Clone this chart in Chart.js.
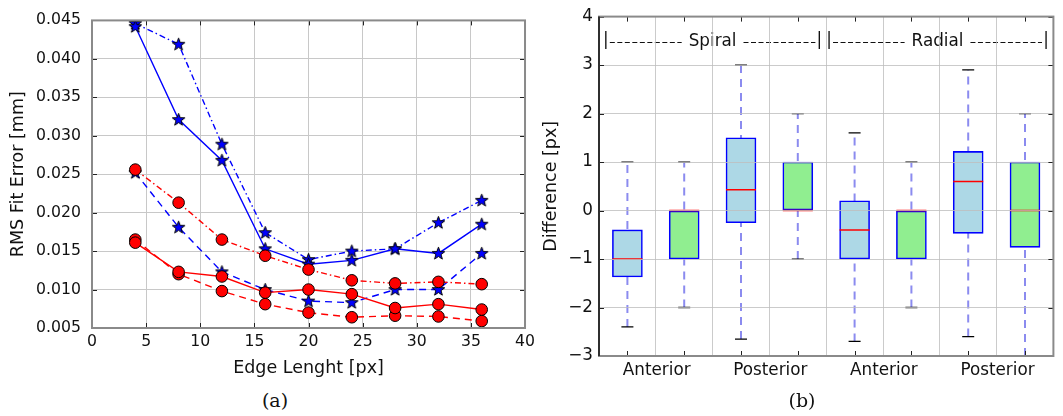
<!DOCTYPE html>
<html>
<head>
<meta charset="utf-8">
<script src="https://cdn.jsdelivr.net/npm/chart.js@4.4.0/dist/chart.umd.min.js"></script>
<style>
  html, body { margin: 0; padding: 0; background: #fff; overflow: hidden; width: 1063px; height: 416px; }
  .wrap { position: absolute; top: 0; }
  .cap { position: absolute; font-family: "DejaVu Serif", serif; font-size: 19px; color: #111; transform: translate(-50%, -50%); }
</style>
</head>
<body>
<div class="wrap" style="left:0;width:540px;height:380px"><canvas id="chartA"></canvas></div>
<div class="wrap" style="left:538px;width:532px;height:392px"><canvas id="chartB"></canvas></div>
<div class="cap" style="left:275px;top:400px">(a)</div>
<div class="cap" style="left:802px;top:400px">(b)</div>
<script>
// ---- panel (a) data
const edgeLength = [4, 8, 12, 16, 20, 24, 28, 32, 36];
const blueSolid = [0.0442, 0.0321, 0.0268, 0.0153, 0.0133, 0.0138, 0.0153, 0.0147, 0.0185];
const blueDashDot = [0.0446, 0.0419, 0.0289, 0.0174, 0.0139, 0.0150, 0.0153, 0.0187, 0.0216];
const blueDashed = [0.0252, 0.0181, 0.0123, 0.0100, 0.0085, 0.0083, 0.0100, 0.0100, 0.0147];
const redSolid = [0.0161, 0.0123, 0.0117, 0.0096, 0.0100, 0.0094, 0.0076, 0.0081, 0.0074];
const redDashed = [0.0165, 0.0120, 0.0098, 0.0081, 0.0070, 0.0064, 0.0066, 0.0065, 0.0059];
const redDashDot = [0.0256, 0.0213, 0.0165, 0.0144, 0.0126, 0.0112, 0.0108, 0.0110, 0.0107];

// ---- panel (b) data
const boxPos = [1, 2, 3, 4, 5, 6, 7, 8];
const boxQ1 = [-1.37, -1, -0.25, 0, -1, -1, -0.47, -0.76];
const boxQ3 = [-0.40, 0, 1.5, 1, 0.2, 0, 1.22, 1];
const boxMedian = [-1, 0, 0.43, 0, -0.4, 0, 0.6, 0];
const whiskerLow = [-2.4, -2, -2.65, -1, -2.7, -2, -2.6, -3];
const whiskerHigh = [1, 1, 3, 2, 1.6, 1, 2.9, 2];
const groupTickPos = [1, 3, 5, 7];
const groupLabels = ['Anterior', 'Posterior', 'Anterior', 'Posterior'];
const protocolNames = ['Spiral', 'Radial'];

const fontA = { family: 'DejaVu Sans', size: 15.7 };
const fontB = { family: 'DejaVu Sans', size: 16.8 };
const fontTitle = { family: 'DejaVu Sans', size: 17.5 };

function starImage() {
    const c = document.createElement('canvas');
    c.width = 15; c.height = 15;
    const g = c.getContext('2d');
    g.beginPath();
    for (let i = 0; i < 10; i++) {
        const r = i % 2 ? 2.7 : 6.6;
        const a = -Math.PI / 2 + i * Math.PI / 5;
        g.lineTo(7.5 + r * Math.cos(a), 7.8 + r * Math.sin(a));
    }
    g.closePath();
    g.fillStyle = '#0000ff';
    g.fill();
    g.strokeStyle = '#000';
    g.lineWidth = 1;
    g.stroke();
    return c;
}
const star = starImage();

function pts(xs, ys) {
    return xs.map((x, i) => ({ x: x, y: ys[i] }));
}

function series(values, color, dash, marker) {
    const s = {
        data: pts(edgeLength, values),
        borderColor: color,
        borderWidth: 1.4,
        borderDash: dash,
        fill: false,
        tension: 0
    };
    if (marker === 'star') {
        s.pointStyle = star;
    } else {
        s.pointStyle = 'circle';
        s.pointRadius = 5.8;
        s.pointBackgroundColor = '#ff0000';
        s.pointBorderColor = '#000';
        s.pointBorderWidth = 1;
    }
    return s;
}

// frame + inward tick marks
const framePlugin = {
    id: 'frame',
    afterDraw(chart, args, opts) {
        const { ctx, chartArea: a, scales } = chart;
        ctx.save();
        ctx.strokeStyle = opts.tickColor;
        ctx.lineWidth = 1;
        ctx.beginPath();
        scales.x.ticks.forEach(t => {
            const px = Math.round(scales.x.getPixelForValue(t.value)) + 0.5;
            ctx.moveTo(px, a.top); ctx.lineTo(px, a.top + 5);
            ctx.moveTo(px, a.bottom); ctx.lineTo(px, a.bottom - 5);
        });
        scales.y.ticks.forEach(t => {
            const py = Math.round(scales.y.getPixelForValue(t.value)) + 0.5;
            ctx.moveTo(a.left, py); ctx.lineTo(a.left + 5, py);
            ctx.moveTo(a.right, py); ctx.lineTo(a.right - 5, py);
        });
        ctx.stroke();
        ctx.strokeStyle = opts.color;
        ctx.lineWidth = 2;
        ctx.strokeRect(a.left, a.top, a.right - a.left, a.bottom - a.top);
        if (opts.leftColor) {
            ctx.strokeStyle = opts.leftColor;
            ctx.lineWidth = 1.5;
            ctx.beginPath();
            ctx.moveTo(a.left, a.top);
            ctx.lineTo(a.left, a.bottom);
            ctx.stroke();
        }
        ctx.restore();
    }
};

new Chart(document.getElementById('chartA'), {
    type: 'line',
    data: {
        datasets: [
            series(redSolid, '#ff0000', [], 'circle'),
            series(redDashed, '#ff0000', [7, 5], 'circle'),
            series(redDashDot, '#ff0000', [6, 3, 1.5, 3], 'circle'),
            series(blueSolid, '#0000ff', [], 'star'),
            series(blueDashed, '#0000ff', [7, 5], 'star'),
            series(blueDashDot, '#0000ff', [6, 3, 1.5, 3], 'star')
        ]
    },
    options: {
        responsive: true,
        maintainAspectRatio: false,
        animation: false,
        layout: { padding: { top: 16, right: 13, left: 0, bottom: 0 } },
        plugins: {
            legend: { display: false },
            tooltip: { enabled: false },
            frame: { color: '#8a8a8a', tickColor: '#222' }
        },
        scales: {
            x: {
                type: 'linear',
                min: 0, max: 40,
                ticks: { stepSize: 5, font: fontA, color: '#111', padding: 5, maxRotation: 0 },
                grid: { color: '#c8c8c8', drawTicks: false },
                border: { display: false },
                title: { display: true, text: 'Edge Lenght [px]', font: fontTitle, color: '#111', padding: { top: 0, bottom: 1.5 } },
                afterFit: s => { s.height = 52; }
            },
            y: {
                min: 0.005, max: 0.045,
                ticks: { stepSize: 0.005, font: fontA, color: '#111', padding: 11, callback: v => v.toFixed(3) },
                grid: { color: '#c8c8c8', drawTicks: false },
                border: { display: false },
                title: { display: true, text: 'RMS Fit Error [mm]', font: fontTitle, color: '#111', padding: { top: 8, bottom: 0 } },
                afterFit: s => { s.width = 92; }
            }
        }
    },
    plugins: [framePlugin]
});

// ---- panel (b)
const groupPlugin = {
    id: 'groups',
    afterDatasetsDraw(chart, args, opts) {
        const { ctx, scales: { x, y } } = chart;
        const py = y.getPixelForValue(opts.level);
        ctx.save();
        ctx.font = fontB.size + 'px ' + fontB.family;
        ctx.fillStyle = '#111';
        ctx.strokeStyle = '#111';
        ctx.lineWidth = 1;
        ctx.textBaseline = 'middle';
        opts.spans.forEach((span, i) => {
            const x0 = x.getPixelForValue(span[0]);
            const x1 = x.getPixelForValue(span[1]);
            const mid = (x0 + x1) / 2;
            const name = protocolNames[i];
            const w = ctx.measureText(name).width;
            ctx.textAlign = 'center';
            ctx.fillText('|', x0, py);
            ctx.fillText('|', x1, py);
            ctx.fillText(name, mid, py + 1);
            ctx.setLineDash([5, 2.5]);
            ctx.beginPath();
            ctx.moveTo(x0 + 4, Math.round(py) + 1.5); ctx.lineTo(mid - w / 2 - 7, Math.round(py) + 1.5);
            ctx.moveTo(mid + w / 2 + 7, Math.round(py) + 1.5); ctx.lineTo(x1 - 4, Math.round(py) + 1.5);
            ctx.stroke();
            ctx.setLineDash([]);
        });
        ctx.restore();
    }
};

const whiskerData = [];
boxPos.forEach((p, i) => {
    whiskerData.push({ x: p, y: whiskerLow[i] }, { x: p, y: whiskerHigh[i] }, { x: p, y: null });
});
const capData = [];
boxPos.forEach((p, i) => {
    capData.push({ x: p, y: whiskerLow[i] }, { x: p, y: whiskerHigh[i] });
});

new Chart(document.getElementById('chartB'), {
    type: 'bar',
    data: {
        datasets: [
            {
                type: 'scatter',
                data: pts(boxPos, boxMedian),
                pointStyle: 'line',
                pointRadius: 15,
                borderColor: '#ff0000',
                borderWidth: 1.6,
                order: 0
            },
            {
                type: 'scatter',
                data: capData,
                pointStyle: 'line',
                pointRadius: 6,
                borderColor: '#000',
                borderWidth: 1.3,
                order: 1
            },
            {
                type: 'bar',
                data: boxPos.map((p, i) => ({ x: p, y: [boxQ1[i], boxQ3[i]] })),
                backgroundColor: boxPos.map((p, i) => i % 2 ? '#90ee90' : '#add8e6'),
                borderColor: '#0000ff',
                borderWidth: 1.6,
                borderSkipped: false,
                barThickness: 30,
                grouped: false,
                order: 2
            },
            {
                type: 'line',
                data: whiskerData,
                borderColor: 'rgba(110,110,235,0.8)',
                borderWidth: 2,
                borderDash: [8, 6],
                pointRadius: 0,
                spanGaps: false,
                order: 3
            }
        ]
    },
    options: {
        responsive: true,
        maintainAspectRatio: false,
        animation: false,
        layout: { padding: { top: 16, right: 3, left: 0, bottom: 0 } },
        plugins: {
            legend: { display: false },
            tooltip: { enabled: false },
            frame: { color: '#8a8a8a', tickColor: '#222', leftColor: '#111' },
            groups: { level: 3.5, spans: [[0.62, 4.38], [4.55, 8.37]] }
        },
        scales: {
            x: {
                type: 'linear',
                min: 0.5, max: 8.5,
                offset: false,
                afterBuildTicks: s => { s.ticks = boxPos.map(v => ({ value: v })); },
                ticks: {
                    font: fontB, color: '#111', padding: 5, maxRotation: 0, autoSkip: false,
                    labelOffset: 29.3,
                    callback: v => {
                        const k = groupTickPos.indexOf(v);
                        return k >= 0 ? groupLabels[k] : '';
                    }
                },
                grid: { color: 'rgba(190,190,190,0.8)', drawTicks: false, z: 1 },
                border: { display: false },
                afterFit: s => { s.height = 36; }
            },
            y: {
                min: -3, max: 4,
                ticks: { stepSize: 1, font: fontB, color: '#111', padding: 6, callback: v => String(v).replace('-', '\u2212') },
                grid: { color: 'rgba(190,190,190,0.8)', drawTicks: false, z: 1 },
                border: { display: false },
                title: { display: true, text: 'Difference [px]', font: fontTitle, color: '#111', padding: { top: 2.5, bottom: 0 } },
                afterFit: s => { s.width = 61; }
            }
        }
    },
    plugins: [framePlugin, groupPlugin]
});
</script>
</body>
</html>
